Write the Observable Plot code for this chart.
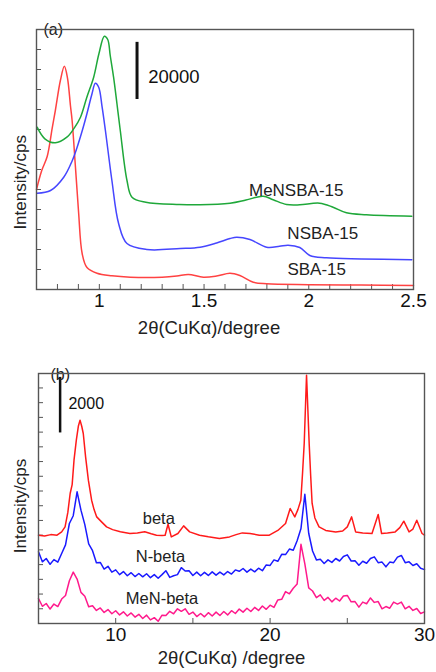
<!DOCTYPE html>
<html><head><meta charset="utf-8">
<script src="https://cdn.jsdelivr.net/npm/d3@7"></script>
<script src="https://cdn.jsdelivr.net/npm/@observablehq/plot@0.6"></script>
<style>
html,body{margin:0;padding:0;background:#fff;}
svg{display:block;}
</style>
</head><body>
<div id="chart"></div>
<script>
// ---------- Panel (a): low-angle XRD ----------
const thetaSBA = [0.700, 0.725, 0.751, 0.775, 0.790, 0.814, 0.833, 0.848, 0.862, 0.870, 0.886, 0.901, 0.918, 0.941, 0.989, 1.060, 1.148, 1.300, 1.370, 1.425, 1.497, 1.560, 1.624, 1.671, 1.735, 1.799, 2.000, 2.250, 2.500];
const intSBA   = [35000, 41650, 46550, 56500, 62650, 73150, 78155, 74000, 64400, 59150, 42805, 26950, 12600, 7700, 5705, 4800, 4305, 4305, 4700, 5250, 4305, 4725, 5705, 4900, 2555, 1995, 1700, 1550, 1400];

const thetaNSBA = [0.703, 0.767, 0.830, 0.870, 0.894, 0.920, 0.941, 0.965, 0.981, 0.997, 1.013, 1.029, 1.060, 1.092, 1.132, 1.227, 1.386, 1.481, 1.560, 1.624, 1.656, 1.719, 1.799, 1.860, 1.901, 1.957, 2.005, 2.084, 2.250, 2.492];
const intNSBA   = [33705, 34650, 39305, 45000, 49805, 56000, 61600, 68500, 72205, 70805, 64000, 55650, 38150, 23100, 16100, 14000, 14350, 14805, 16300, 17850, 18305, 17500, 14805, 15100, 15505, 14700, 11900, 11095, 10700, 10395];

const thetaMeNSBA = [0.703, 0.740, 0.790, 0.845, 0.880, 0.910, 0.940, 0.973, 0.998, 1.024, 1.040, 1.052, 1.068, 1.084, 1.100, 1.132, 1.156, 1.222, 1.381, 1.481, 1.624, 1.700, 1.782, 1.830, 1.894, 1.957, 2.052, 2.116, 2.180, 2.275, 2.492];
const intMeNSBA   = [56805, 52745, 51345, 53305, 56500, 60305, 67200, 74305, 82500, 88650, 87500, 81900, 74305, 65100, 55650, 38150, 32305, 30555, 29750, 29645, 30205, 31300, 32655, 31400, 29750, 29645, 30205, 28800, 26845, 26150, 25655];

const namesA = ["SBA-15", "NSBA-15", "MeNSBA-15"];
const xMinorTicksA = [0.8, 0.9, 1.0, 1.1, 1.2, 1.3, 1.4, 1.5, 1.6, 1.7, 1.8, 1.9, 2.0, 2.1, 2.2, 2.3, 2.4];
const xLabelTicksA = [1, 1.5, 2, 2.5];
const xLabelsA = ["1", "1.5", "2", "2.5"];
const yTicksA = [7000, 14000, 21000, 28000, 35000, 42000, 49000, 56000, 63000, 70000, 77000, 84000];
const scaleBarA = 20000;

// ---------- Panel (b): wide-angle XRD ----------
const thetaBeta = [5.0, 5.4, 5.8, 6.2, 6.5, 6.72, 6.9, 7.05, 7.18, 7.30, 7.45, 7.58, 7.69, 7.80, 7.90, 8.05, 8.23, 8.44, 8.6, 8.77, 9.1, 9.41, 9.8, 10.3, 10.92, 11.4, 11.88, 12.3, 12.64, 13.0, 13.2, 13.39, 13.6, 14.03, 14.40, 14.79, 15.43, 16.0, 16.72, 17.37, 17.8, 18.2, 18.7, 19.3, 19.95, 20.5, 21.0, 21.3, 21.6, 21.8, 21.99, 22.1, 22.21, 22.36, 22.53, 22.63, 22.72, 22.9, 23.17, 23.6, 24.25, 24.7, 25.0, 25.28, 25.54, 26.0, 26.6, 27.0, 27.22, 27.6, 28.1, 28.4, 28.66, 29.0, 29.25, 29.5, 29.84, 30.0];
const intBeta   = [3180, 3150, 3200, 3180, 3300, 3478, 4000, 4680, 5000, 5879, 6600, 7100, 7320, 7100, 6840, 6000, 5159, 4439, 4100, 3838, 3650, 3478, 3380, 3300, 3240, 3260, 3300, 3230, 3179, 3170, 3179, 3575, 3118, 3240, 3514, 3298, 3179, 3120, 3060, 3118, 3200, 3262, 3240, 3180, 3179, 3350, 3600, 4140, 3838, 4100, 4439, 5400, 6491, 8939, 6491, 5300, 4331, 3800, 3478, 3350, 3298, 3330, 3478, 3838, 3298, 3260, 3240, 3924, 3240, 3260, 3298, 3450, 3683, 3298, 3400, 3719, 3240, 3180];

const thetaScan = [5.00, 5.25, 5.50, 5.75, 6.00, 6.25, 6.50, 6.75, 7.00, 7.25, 7.50, 7.75, 8.00, 8.25, 8.50, 8.75, 9.00, 9.25, 9.50, 9.75,
  10.00, 10.25, 10.50, 10.75, 11.00, 11.25, 11.50, 11.75, 12.00, 12.25, 12.50, 12.75, 13.00, 13.25, 13.50, 13.75, 14.00, 14.25, 14.50, 14.75,
  15.00, 15.25, 15.50, 15.75, 16.00, 16.25, 16.50, 16.75, 17.00, 17.25, 17.50, 17.75, 18.00, 18.25, 18.50, 18.75, 19.00, 19.25, 19.50, 19.75,
  20.00, 20.25, 20.50, 20.75, 21.00, 21.25, 21.50, 21.75, 22.00, 22.25, 22.50, 22.75, 23.00, 23.25, 23.50, 23.75, 24.00, 24.25, 24.50, 24.75,
  25.00, 25.25, 25.50, 25.75, 26.00, 26.25, 26.50, 26.75, 27.00, 27.25, 27.50, 27.75, 28.00, 28.25, 28.50, 28.75, 29.00, 29.25, 29.50, 29.75, 30.00];
const intNBeta = [2580, 2220, 2340, 2130, 2300, 2210, 2520, 2830, 3600, 3880, 4740, 4080, 3560, 2870, 2620, 2190, 2200, 1960, 2060, 1850,
  1930, 1760, 1870, 1720, 1830, 1690, 1800, 1680, 1790, 1650, 1760, 1630, 1760, 1900, 1660, 1720, 1760, 2010, 1890, 1900,
  1730, 1850, 1720, 1840, 1730, 1860, 1740, 1850, 1750, 1870, 1780, 1930, 1880, 1980, 1850, 1960, 1860, 1990, 1900, 2110,
  2090, 2290, 2240, 2490, 2480, 2680, 2640, 2980, 3420, 4650, 3250, 2610, 2290, 2310, 2160, 2290, 2200, 2340, 2250, 2410,
  2470, 2250, 2260, 2100, 2240, 2170, 2340, 2400, 2190, 2210, 2040, 2210, 2190, 2390, 2450, 2190, 2220, 2090, 2150, 1990, 1940];
const intMeNBeta = [900, 620, 720, 520, 700, 610, 880, 1010, 1540, 1850, 1600, 1120, 980, 600, 640, 470, 560, 400, 500, 350,
  460, 310, 420, 270, 380, 230, 330, 180, 300, 130, 210, 80, 300, 290, 440, 350, 530, 440, 530, 330,
  410, 250, 360, 240, 390, 270, 410, 290, 430, 310, 460, 360, 520, 410, 550, 430, 580, 470, 630, 510,
  660, 580, 850, 870, 1150, 1070, 1270, 1420, 2850, 2150, 1280, 1170, 930, 1030, 830, 940, 780, 910, 810, 990,
  1010, 780, 790, 590, 770, 710, 920, 760, 790, 530, 610, 550, 770, 700, 770, 530, 620, 470, 540, 360, 420];

const namesB = ["beta", "N-beta", "MeN-beta"];
const xMinorTicksB = [10, 15, 20, 25];
const xLabelTicksB = [10, 20, 30];
const xLabelsB = ["10", "20", "30"];
const yTicksB = [530, 1060, 1590, 2120, 2650, 3180, 3710, 4240, 4770, 5300, 5830, 6360, 6890, 7420, 7950, 8480];
const scaleBarB = 2000;

// ---------- helpers ----------
const rows = (theta, inten) => theta.map((t, i) => ({theta: t, intensity: inten[i]}));
const font = "'Liberation Sans', Arial, Helvetica, sans-serif";
const frameColor = "#555";

const chart = document.getElementById("chart");

// Panel (a)
const labelsA = [
  {name: namesA[2], x: 1.94, y: 34650},
  {name: namesA[1], x: 2.067, y: 19600},
  {name: namesA[0], x: 2.038, y: 7000}
];
const plotA = Plot.plot({
  width: 436, height: 345,
  marginLeft: 36, marginRight: 23, marginTop: 29, marginBottom: 56,
  x: {domain: [0.7, 2.5]},
  y: {domain: [0, 91000]},
  style: {fontFamily: font, background: "#fff", color: "#111", overflow: "visible"},
  marks: [
    Plot.axisX({ticks: xMinorTicksA, tickSize: -5, tickFormat: () => "", label: null, stroke: frameColor}),
    Plot.axisX({ticks: xLabelTicksA, tickSize: 0, tickPadding: 4, fontSize: 19, label: null,
      tickFormat: d => xLabelsA[xLabelTicksA.indexOf(d)]}),
    Plot.axisY({ticks: yTicksA, tickSize: -5, tickFormat: () => "", label: null, stroke: frameColor}),
    Plot.line(rows(thetaSBA, intSBA), {x: "theta", y: "intensity", stroke: "#ff4242", strokeWidth: 1.5, curve: "catmull-rom"}),
    Plot.line(rows(thetaNSBA, intNSBA), {x: "theta", y: "intensity", stroke: "#4646ff", strokeWidth: 1.5, curve: "catmull-rom"}),
    Plot.line(rows(thetaMeNSBA, intMeNSBA), {x: "theta", y: "intensity", stroke: "#1fa83a", strokeWidth: 1.5, curve: "catmull-rom"}),
    Plot.ruleX([{x: 1.18, y1: 66500, y2: 66500 + scaleBarA}], {x: "x", y1: "y1", y2: "y2", stroke: "#111", strokeWidth: 3}),
    Plot.text([{x: 1.233, y: 74200, v: scaleBarA}], {x: "x", y: "y", text: d => String(d.v), textAnchor: "start", fontSize: 18.5, fill: "#111"}),
    Plot.text(labelsA, {x: "x", y: "y", text: "name", fontSize: 17, fill: "#222"}),
    Plot.text(["(a)"], {frameAnchor: "top-left", dx: 7, dy: -6, fontSize: 16, fill: "#222"}),
    Plot.text(["Intensity/cps"], {x: 0.7, y: 37500, rotate: -90, dx: -16, fontSize: 17, fill: "#222"}),
    Plot.text(["2θ(CuKα)/degree"], {frameAnchor: "bottom", dx: -16, dy: 44, fontSize: 18.5, fill: "#222"}),
    Plot.frame({stroke: frameColor, strokeWidth: 1.4})
  ]
});
chart.appendChild(plotA);

// Panel (b)
const labelsB = [
  {name: namesB[0], x: 12.79, y: 3780},
  {name: namesB[1], x: 12.9, y: 2398},
  {name: namesB[2], x: 13.0, y: 900}
];
const plotB = Plot.plot({
  width: 436, height: 327,
  marginLeft: 38, marginRight: 12, marginTop: 28, marginBottom: 49,
  x: {domain: [5, 30]},
  y: {domain: [0, 9000]},
  style: {fontFamily: font, background: "#fff", color: "#111", overflow: "visible"},
  marks: [
    Plot.axisX({ticks: xMinorTicksB, tickSize: -5, tickFormat: () => "", label: null, stroke: frameColor}),
    Plot.axisX({ticks: xLabelTicksB, tickSize: 0, tickPadding: 4, fontSize: 19, label: null,
      tickFormat: d => xLabelsB[xLabelTicksB.indexOf(d)]}),
    Plot.axisY({ticks: yTicksB, tickSize: -5, tickFormat: () => "", label: null, stroke: frameColor}),
    Plot.line(rows(thetaScan, intMeNBeta), {x: "theta", y: "intensity", stroke: "#ff1a8c", strokeWidth: 1.5}),
    Plot.line(rows(thetaScan, intNBeta), {x: "theta", y: "intensity", stroke: "#1a1aff", strokeWidth: 1.5}),
    Plot.line(rows(thetaBeta, intBeta), {x: "theta", y: "intensity", stroke: "#ff1a1a", strokeWidth: 1.5}),
    Plot.ruleX([{x: 6.4, y1: 6860, y2: 6860 + scaleBarB}], {x: "x", y1: "y1", y2: "y2", stroke: "#111", strokeWidth: 2.5}),
    Plot.text([{x: 6.94, y: 7920, v: scaleBarB}], {x: "x", y: "y", text: d => String(d.v), textAnchor: "start", fontSize: 16, fill: "#111"}),
    Plot.text(labelsB, {x: "x", y: "y", text: "name", fontSize: 16.5, fill: "#222"}),
    Plot.text(["(b)"], {frameAnchor: "top-left", dx: 12, dy: -5, fontSize: 16, fill: "#222"}),
    Plot.text(["Intensity/cps"], {x: 5, y: 4230, rotate: -90, dx: -18, fontSize: 17, fill: "#222"}),
    Plot.text(["2θ(CuKα) /degree"], {frameAnchor: "bottom", dy: 40, fontSize: 18.5, fill: "#222"}),
    Plot.frame({stroke: frameColor, strokeWidth: 1.4})
  ]
});
chart.appendChild(plotB);
</script>
</body></html>
